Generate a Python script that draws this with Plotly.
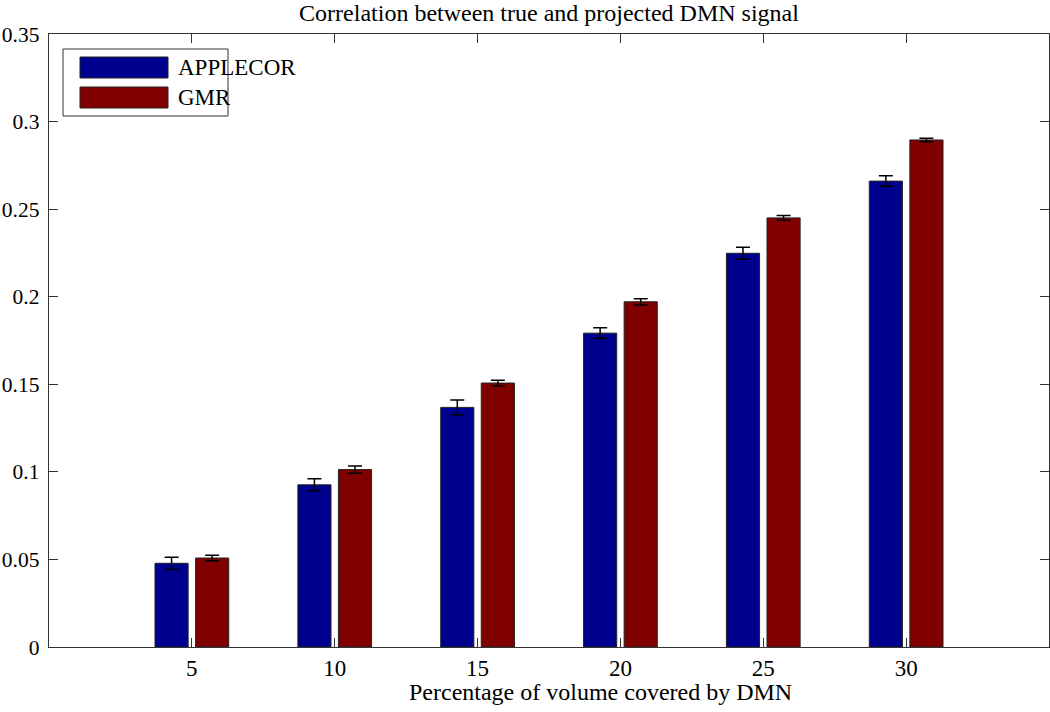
import plotly.graph_objects as go

categories = [5, 10, 15, 20, 25, 30]
applecor = [0.0478, 0.0926, 0.1368, 0.1792, 0.2248, 0.2660]
applecor_err = [0.0035, 0.0034, 0.0042, 0.0031, 0.0034, 0.0030]
gmr = [0.0508, 0.1013, 0.1507, 0.1971, 0.2450, 0.2895]
gmr_err = [0.0016, 0.0021, 0.0016, 0.0018, 0.0013, 0.0010]
ytick_vals = [0, 0.05, 0.1, 0.15, 0.2, 0.25, 0.3, 0.35]
ytick_text = ["0", "0.05", "0.1", "0.15", "0.2", "0.25", "0.3", "0.35"]

series_names = ["APPLECOR", "GMR"]
colors = ["#00008F", "#800000"]
FONT = "Liberation Serif, Times New Roman, serif"

fig = go.Figure()
for name, vals, errs, col in zip(series_names, [applecor, gmr], [applecor_err, gmr_err], colors):
    fig.add_trace(go.Bar(
        x=categories, y=vals, name=name,
        marker=dict(color=col, line=dict(color="#222222", width=1)),
        error_y=dict(type="data", array=errs, visible=True, color="black", thickness=1.5, width=7),
        showlegend=False,
    ))

fig.update_layout(
    width=1050, height=712,
    margin=dict(l=49, r=1, t=34, b=65, autoexpand=False),
    paper_bgcolor="white", plot_bgcolor="white",
    barmode="group", bargap=0.432, bargroupgap=0.183,
    font=dict(family=FONT, size=22, color="black"),
    title=dict(text="Correlation between true and projected DMN signal",
               x=0.5, xref="paper", xanchor="center",
               yref="container", y=1 - 13 / 712, yanchor="middle",
               font=dict(family=FONT, size=24, color="black")),
    xaxis=dict(range=[0, 35], tickvals=categories, ticktext=[str(c) for c in categories],
               ticks="inside", ticklen=9, tickcolor="#333", showline=True, linecolor="#333",
               linewidth=1, mirror="ticks", showgrid=False, zeroline=False,
               tickfont=dict(family=FONT, size=23)),
    yaxis=dict(range=[0, 0.35], tickvals=ytick_vals,
               ticktext=[t + "\u2009" for t in ytick_text],
               ticks="inside", ticklen=9, tickcolor="#333",
               showline=True, linecolor="#333", linewidth=1, mirror="ticks",
               showgrid=False, zeroline=False, tickfont=dict(family=FONT, size=21.5)),
)

# x-axis label (offset to the right as in the original)
fig.add_annotation(xref="paper", yref="paper", x=(600 - 49) / 1000, y=(647 - 692) / 613,
                   text="Percentage of volume covered by DMN", showarrow=False,
                   xanchor="center", yanchor="middle",
                   font=dict(family=FONT, size=24, color="black"))

fig.add_shape(type="rect", xref="paper", yref="paper", layer="above",
              x0=(63 - 49) / 1000, x1=(228 - 49) / 1000,
              y0=(647 - 116) / 613, y1=(647 - 49) / 613,
              line=dict(color="#333", width=1), fillcolor="white")
for i, (name, col) in enumerate(zip(series_names, colors)):
    top = 57 + i * 30
    fig.add_shape(type="rect", xref="paper", yref="paper", layer="above",
                  x0=(80 - 49) / 1000, x1=(168 - 49) / 1000,
                  y0=(647 - (top + 21)) / 613, y1=(647 - top) / 613,
                  line=dict(color="#222", width=1), fillcolor=col)
    fig.add_annotation(xref="paper", yref="paper", x=(176 - 49) / 1000,
                       y=(647 - (top + 10.5)) / 613, text=name, showarrow=False,
                       xanchor="left", yanchor="middle",
                       font=dict(family=FONT, size=23, color="black"))

fig.write_html("out.html", config={"displayModeBar": False},
               post_script="document.body.style.margin='0';")
